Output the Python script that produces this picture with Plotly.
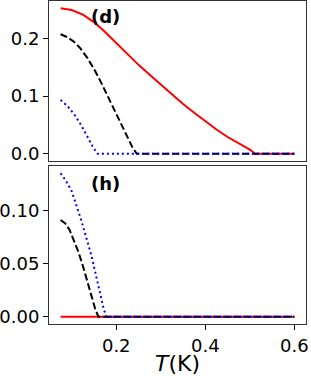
import plotly.graph_objects as go

# ---- data ----
# panel (d)
d_red_T = [0.075, 0.1, 0.125, 0.15, 0.175, 0.2, 0.225, 0.25, 0.275, 0.3, 0.325, 0.35,
           0.375, 0.4, 0.425, 0.45, 0.475, 0.5, 0.512, 0.55, 0.6]
d_red_v = [0.252, 0.249, 0.241, 0.228, 0.211, 0.192, 0.173, 0.154, 0.137, 0.120, 0.103, 0.086,
           0.071, 0.056, 0.042, 0.029, 0.018, 0.007, 0.0, 0.0, 0.0]
d_blk_T = [0.075, 0.09, 0.105, 0.12, 0.135, 0.15, 0.165, 0.18, 0.195, 0.21, 0.225, 0.237, 0.246, 0.6]
d_blk_v = [0.207, 0.202, 0.194, 0.182, 0.166, 0.147, 0.125, 0.101, 0.077, 0.053, 0.029, 0.010, 0.0, 0.0]
d_blu_T = [0.075, 0.09, 0.105, 0.12, 0.135, 0.148, 0.158, 0.6]
d_blu_v = [0.093, 0.083, 0.069, 0.051, 0.030, 0.011, 0.0, 0.0]

# panel (h)
h_red_T = [0.075, 0.6]
h_red_v = [0.0, 0.0]
h_blk_T = [0.075, 0.085, 0.095, 0.105, 0.115, 0.125, 0.135, 0.145, 0.153, 0.16, 0.6]
h_blk_v = [0.091, 0.088, 0.082, 0.072, 0.061, 0.048, 0.034, 0.019, 0.007, 0.0, 0.0]
h_blu_T = [0.075, 0.087, 0.1, 0.111, 0.122, 0.133, 0.144, 0.155, 0.165, 0.172, 0.178, 0.6]
h_blu_v = [0.135, 0.128, 0.118, 0.105, 0.090, 0.074, 0.058, 0.038, 0.019, 0.007, 0.0, 0.0]

x_ticks = [0.2, 0.4, 0.6]
x_tick_labels = ["0.2", "0.4", "0.6"]
d_y_ticks = [0.0, 0.1, 0.2]
d_y_tick_labels = ["0.0", "0.1", "0.2"]
h_y_ticks = [0.0, 0.05, 0.10]
h_y_tick_labels = ["0.00", "0.05", "0.10"]

FONT = "DejaVu Sans"
fig = go.Figure()

def add(T, v, color, dash, xa, ya):
    fig.add_trace(go.Scatter(x=T, y=v, mode="lines", xaxis=xa, yaxis=ya,
                             line=dict(color=color, width=2, dash=dash),
                             showlegend=False, hoverinfo="skip"))

add(d_red_T, d_red_v, "#ff0000", "solid", "x", "y")
add(d_blk_T, d_blk_v, "#000000", "7px,3px", "x", "y")
add(d_blu_T, d_blu_v, "#0000ff", "2px,3px", "x", "y")
add(h_red_T, h_red_v, "#ff0000", "solid", "x2", "y2")
add(h_blk_T, h_blk_v, "#000000", "7px,3px", "x2", "y2")
add(h_blu_T, h_blu_v, "#0000ff", "2px,3px", "x2", "y2")

axis_common = dict(showline=True, mirror=True, linecolor="#333333", linewidth=1,
                   showgrid=False, zeroline=False, ticks="outside", ticklen=5,
                   tickwidth=1, tickcolor="#000000", automargin=False,
                   tickfont=dict(family=FONT, size=18, color="#000000"))

xr = [0.049, 0.626]
fig.update_layout(
    width=311, height=376,
    margin=dict(l=49, r=5, t=1, b=52, autoexpand=False),
    paper_bgcolor="white", plot_bgcolor="white",
    xaxis=dict(axis_common, range=xr, domain=[0, 1], anchor="y",
               showticklabels=False, ticks="", tickvals=x_ticks),
    yaxis=dict(axis_common, range=[-0.0126, 0.2646], domain=[0.5046, 1], anchor="x",
               tickvals=d_y_ticks, ticktext=d_y_tick_labels),
    xaxis2=dict(axis_common, range=xr, domain=[0, 1], anchor="y2",
                tickvals=x_ticks, ticktext=x_tick_labels,
                title=dict(text="<i>T</i>(K)", font=dict(family=FONT, size=22, color="#000000"),
                           standoff=2)),
    yaxis2=dict(axis_common, range=[-0.0068, 0.1418], domain=[0, 0.489], anchor="x2",
                tickvals=h_y_ticks, ticktext=h_y_tick_labels),
)

fig.add_annotation(text="<b>(d)</b>", x=0.175, y=0.2375, xref="x", yref="y",
                   showarrow=False, font=dict(family=FONT, size=18, color="#000000"))
fig.add_annotation(text="<b>(h)</b>", x=0.175, y=0.1258, xref="x2", yref="y2",
                   showarrow=False, font=dict(family=FONT, size=18, color="#000000"))

fig.write_html("out.html", config={"displayModeBar": False},
               post_script="document.body.style.margin='0';document.body.style.overflow='hidden';")
